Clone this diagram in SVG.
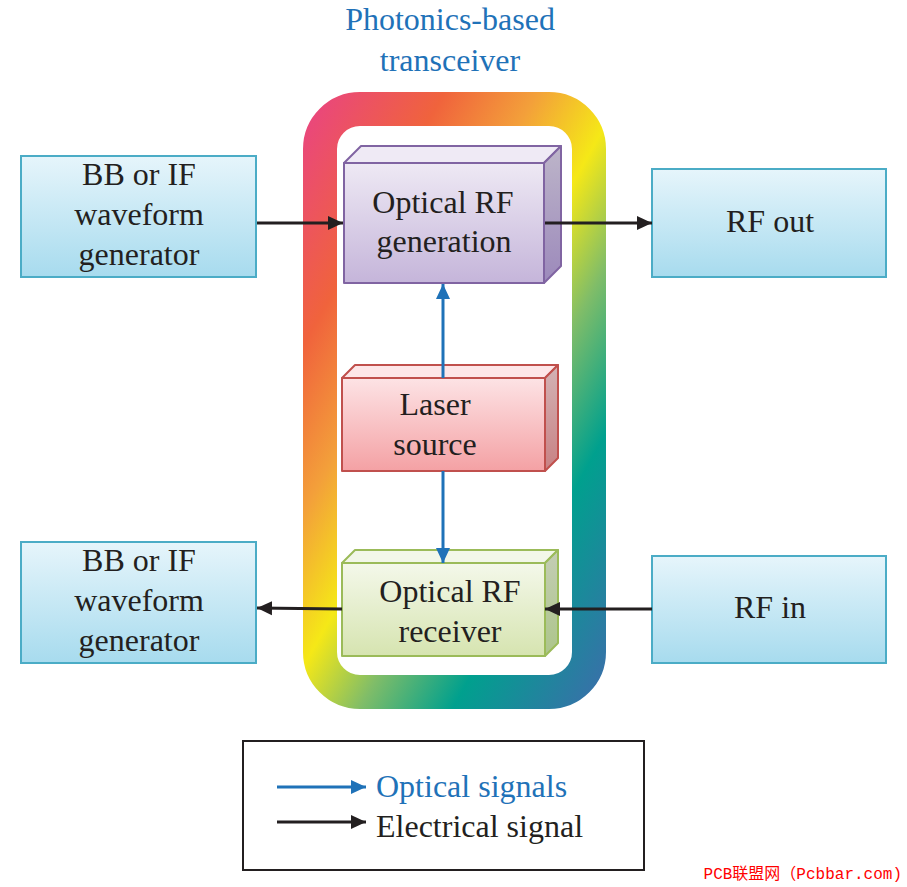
<svg xmlns="http://www.w3.org/2000/svg" width="907" height="887" viewBox="0 0 907 887">
<style>
text{font-family:"Liberation Serif","Times New Roman",serif;font-size:32px;fill:#231f20;text-anchor:middle}
.blue{fill:#1f72b8}
.io{stroke:#4bacc6;stroke-width:2;fill:url(#gIO)}
.el{stroke:#231f20;stroke-width:3;fill:none;marker-end:url(#aBlack)}
.op{stroke:#1f72b8;stroke-width:3;fill:none;marker-end:url(#aBlue)}
</style>
<defs>
<linearGradient id="gRing" gradientUnits="userSpaceOnUse" x1="262" y1="146" x2="768" y2="428">
<stop offset="0" stop-color="#e8408c"/>
<stop offset="0.23" stop-color="#f0633c"/>
<stop offset="0.37" stop-color="#f3a03a"/>
<stop offset="0.5" stop-color="#f5e817"/>
<stop offset="0.62" stop-color="#80bd68"/>
<stop offset="0.76" stop-color="#00a08e"/>
<stop offset="1" stop-color="#4169ad"/>
</linearGradient>
<linearGradient id="gIO" x1="0" y1="0" x2="0" y2="1">
<stop offset="0" stop-color="#e6f5fb"/>
<stop offset="1" stop-color="#a7dbee"/>
</linearGradient>
<linearGradient id="gGen" x1="0" y1="0" x2="0" y2="1">
<stop offset="0" stop-color="#eee9f4"/>
<stop offset="1" stop-color="#c5b5da"/>
</linearGradient>
<linearGradient id="gGenS" x1="0" y1="0" x2="0" y2="1">
<stop offset="0" stop-color="#bdb5c9"/>
<stop offset="1" stop-color="#9c89bb"/>
</linearGradient>
<linearGradient id="gLas" x1="0" y1="0" x2="0" y2="1">
<stop offset="0" stop-color="#fde3e5"/>
<stop offset="1" stop-color="#f4a1a4"/>
</linearGradient>
<linearGradient id="gLasS" x1="0" y1="0" x2="0" y2="1">
<stop offset="0" stop-color="#d3b3b5"/>
<stop offset="1" stop-color="#c88183"/>
</linearGradient>
<linearGradient id="gRx" x1="0" y1="0" x2="0" y2="1">
<stop offset="0" stop-color="#f4f8ea"/>
<stop offset="1" stop-color="#d6e4b0"/>
</linearGradient>
<linearGradient id="gRxS" x1="0" y1="0" x2="0" y2="1">
<stop offset="0" stop-color="#c4cdb4"/>
<stop offset="1" stop-color="#acc58a"/>
</linearGradient>
<marker id="aBlack" markerUnits="userSpaceOnUse" markerWidth="16" markerHeight="16" refX="15" refY="8" orient="auto">
<path d="M0,1 L15,8 L0,15 Z" fill="#231f20"/>
</marker>
<marker id="aBlue" markerUnits="userSpaceOnUse" markerWidth="16" markerHeight="16" refX="15" refY="8" orient="auto">
<path d="M0,1 L15,8 L0,15 Z" fill="#1f72b8"/>
</marker>
</defs>

<g id="title">
<text class="blue" x="450" y="30">Photonics-based</text>
<text class="blue" x="450" y="71">transceiver</text>
</g>

<g id="ring">
<rect x="320" y="109" width="269" height="583" rx="40" ry="40" fill="none" stroke="url(#gRing)" stroke-width="34"/>
</g>

<g id="bbTop">
<rect class="io" x="21" y="156" width="235" height="121"/>
<text x="139" y="185">BB or IF</text>
<text x="139" y="225">waveform</text>
<text x="139" y="265">generator</text>
</g>

<g id="bbBottom">
<rect class="io" x="21" y="542" width="235" height="121"/>
<text x="139" y="571">BB or IF</text>
<text x="139" y="611">waveform</text>
<text x="139" y="651">generator</text>
</g>

<g id="rfOut">
<rect class="io" x="652" y="169" width="234" height="108"/>
<text x="770" y="232">RF out</text>
</g>

<g id="rfIn">
<rect class="io" x="652" y="556" width="234" height="107"/>
<text x="770" y="618">RF in</text>
</g>

<g id="gen" stroke="#8064a2" stroke-width="2" stroke-linejoin="round">
<path d="M344,163 L361,146 L561,146 L544,163 Z" fill="#efeaf5"/>
<path d="M544,163 L561,146 L561,266 L544,283 Z" fill="url(#gGenS)"/>
<rect x="344" y="163" width="200" height="120" fill="url(#gGen)"/>
<text x="443" y="213" stroke="none">Optical RF</text>
<text x="444" y="252" stroke="none">generation</text>
</g>

<g id="laser" stroke="#c0504d" stroke-width="2" stroke-linejoin="round">
<path d="M342,378 L355,365 L558,365 L545,378 Z" fill="#fde6e8"/>
<path d="M545,378 L558,365 L558,458 L545,471 Z" fill="url(#gLasS)"/>
<rect x="342" y="378" width="203" height="93" fill="url(#gLas)"/>
<text x="435" y="415" stroke="none">Laser</text>
<text x="435" y="455" stroke="none">source</text>
</g>

<g id="receiver" stroke="#9bbb59" stroke-width="2" stroke-linejoin="round">
<path d="M342,563 L355,550 L558,550 L545,563 Z" fill="#f2f7e8"/>
<path d="M545,563 L558,550 L558,643 L545,656 Z" fill="url(#gRxS)"/>
<rect x="342" y="563" width="203" height="93" fill="url(#gRx)"/>
<text x="450" y="602" stroke="none">Optical RF</text>
<text x="450" y="642" stroke="none">receiver</text>
</g>

<g id="connectors">
<line class="el" x1="257" y1="223" x2="343" y2="223"/>
<line class="el" x1="545" y1="223" x2="652" y2="223"/>
<line class="op" x1="443" y1="378" x2="443" y2="284"/>
<line class="op" x1="443" y1="471" x2="443" y2="563"/>
<line class="el" x1="342" y1="609" x2="257" y2="608"/>
<line class="el" x1="652" y1="609" x2="545" y2="609"/>
</g>

<g id="legend">
<rect x="243" y="741" width="401" height="129" fill="#ffffff" stroke="#231f20" stroke-width="2"/>
<line class="op" x1="277" y1="787" x2="366" y2="787"/>
<line class="el" x1="277" y1="822" x2="366" y2="822"/>
<text class="blue" x="376" y="797" style="text-anchor:start">Optical signals</text>
<text x="376" y="837" style="text-anchor:start">Electrical signal</text>
</g>

<g id="watermark">
<text x="902" y="879" style="font-family:'Liberation Mono','Noto Sans CJK SC',monospace;font-size:16px;fill:#ff0000;text-anchor:end">PCB联盟网（Pcbbar.com)</text>
</g>
</svg>
